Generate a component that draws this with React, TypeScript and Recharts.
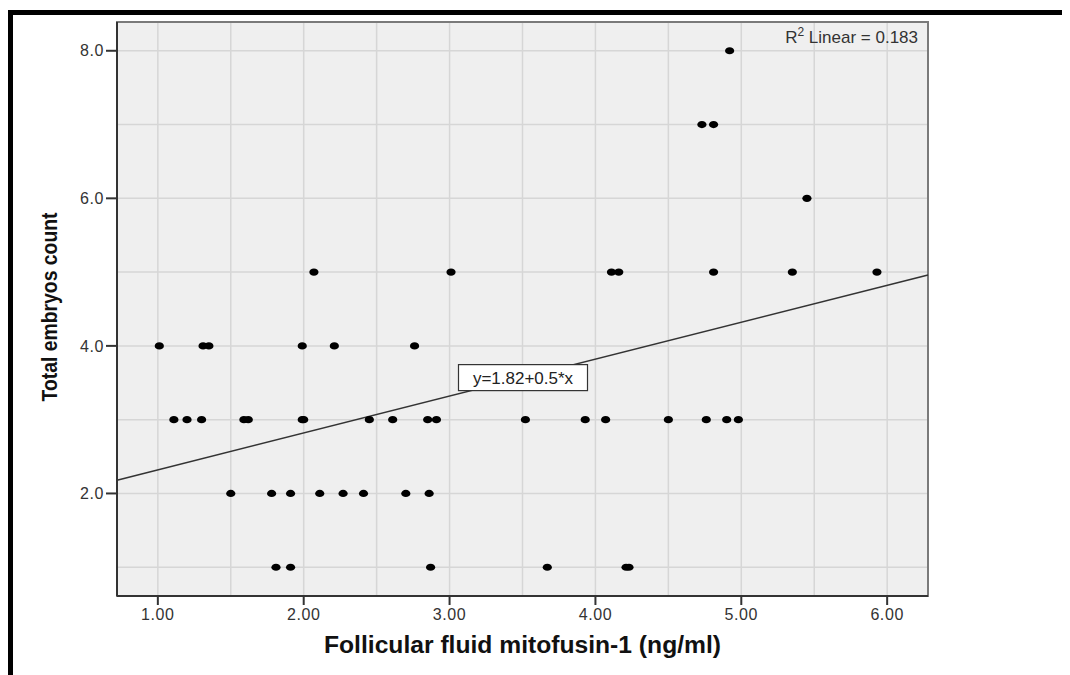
import React from 'react';
import {
  ScatterChart,
  Scatter,
  XAxis,
  YAxis,
  CartesianGrid,
  ReferenceLine,
  ReferenceDot,
  ReferenceArea,
  Label,
} from 'recharts';

// follicular fluid mitofusin-1 (ng/ml), paired with embryo counts below
const mitofusin = [
  1.81, 1.91, 2.87, 3.67, 4.21, 4.23,
  1.5, 1.78, 1.91, 2.11, 2.27, 2.41, 2.7, 2.86,
  1.11, 1.2, 1.3, 1.59, 1.62, 1.99, 2.0, 2.45, 2.61, 2.85, 2.91, 3.52, 3.93, 4.07, 4.5, 4.76, 4.9, 4.98,
  1.01, 1.31, 1.35, 1.99, 2.21, 2.76,
  2.07, 3.01, 4.11, 4.16, 4.81, 5.35, 5.93,
  5.45,
  4.73, 4.81,
  4.92,
];
const embryoCount = [
  1, 1, 1, 1, 1, 1,
  2, 2, 2, 2, 2, 2, 2, 2,
  3, 3, 3, 3, 3, 3, 3, 3, 3, 3, 3, 3, 3, 3, 3, 3, 3, 3,
  4, 4, 4, 4, 4, 4,
  5, 5, 5, 5, 5, 5, 5,
  6,
  7, 7,
  8,
];

const xTicks = [1, 2, 3, 4, 5, 6];
const yTicks = [2, 4, 6, 8];
const xGrid = [1, 1.5, 2, 2.5, 3, 3.5, 4, 4.5, 5, 5.5, 6];
const yGrid = [1, 2, 3, 4, 5, 6, 7, 8];
const xDomain = [0.72, 6.28];
const yDomain = [0.61, 8.39];

const intercept = 1.82;
const slope = 0.5;
const rSquared = 0.183;
const eqLabelX = 3.5;

const FONT = '"Liberation Sans", Arial, sans-serif';

const points = mitofusin.map((x, i) => ({ x, y: embryoCount[i] }));

const Dot = (props: any) => (
  <ellipse cx={props.cx} cy={props.cy} rx={4.6} ry={3.6} fill="#000" />
);

const EquationBox = (props: any) => {
  const { cx, cy } = props;
  return (
    <g>
      <rect x={cx - 64} y={cy - 13} width={129} height={26} fill="#fff" stroke="#333" strokeWidth={1.2} />
      <text x={cx + 0.5} y={cy + 6} textAnchor="middle" fontFamily={FONT} fontSize={17} fill="#222">
        {`y=${intercept}+${slope}*x`}
      </text>
    </g>
  );
};

const RSquaredText = (props: any) => {
  const { cx, cy } = props;
  return (
    <text x={cx - 10} y={cy + 21} textAnchor="end" fontFamily={FONT} fontSize={17} fill="#333">
      R
      <tspan dy={-7} fontSize={12}>2</tspan>
      <tspan dy={7}>{` Linear = ${rSquared}`}</tspan>
    </text>
  );
};

const XTitle = (props: any) => {
  const vb = props.viewBox;
  return (
    <text
      x={vb.x + vb.width / 2}
      y={vb.y + 57}
      textAnchor="middle"
      fontFamily={FONT}
      fontWeight="bold"
      fontSize={23}
      fill="#111"
      textLength={397}
      lengthAdjust="spacingAndGlyphs"
    >
      Follicular fluid mitofusin-1 (ng/ml)
    </text>
  );
};

const YTitle = (props: any) => {
  const vb = props.viewBox;
  const x = vb.x + 49;
  const y = vb.y + vb.height / 2 - 2;
  return (
    <text
      x={x}
      y={y}
      transform={`rotate(-90 ${x} ${y})`}
      textAnchor="middle"
      fontFamily={FONT}
      fontWeight="bold"
      fontSize={22}
      fill="#111"
      textLength={189}
      lengthAdjust="spacingAndGlyphs"
    >
      Total embryos count
    </text>
  );
};

export default function App() {
  return (
    <div style={{ position: 'relative', width: 1062, height: 667, overflow: 'hidden', background: '#fff' }}>
      <div
        style={{
          position: 'absolute',
          left: 0,
          top: 2,
          width: 1200,
          height: 800,
          borderTop: '5px solid #000',
          borderLeft: '5px solid #000',
        }}
      />
      <ScatterChart width={1062} height={667} margin={{ top: 14, right: 142, bottom: 0, left: 0 }}>
        <CartesianGrid
          fill="#efefef"
          fillOpacity={1}
          stroke="#d6d6d6"
          strokeWidth={1.5}
          verticalValues={xGrid}
          horizontalValues={yGrid}
        />
        <ReferenceArea
          x1={xDomain[0]}
          x2={xDomain[1]}
          y1={yDomain[0]}
          y2={yDomain[1]}
          fill="none"
          stroke="#7a7a7a"
          strokeWidth={2}
          ifOverflow="visible"
        />
        <XAxis
          type="number"
          dataKey="x"
          domain={xDomain}
          allowDataOverflow
          ticks={xTicks}
          tickFormatter={(v: number) => v.toFixed(2)}
          height={79}
          tickSize={9}
          tickMargin={4}
          axisLine={{ stroke: '#333', strokeWidth: 2 }}
          tickLine={{ stroke: '#333', strokeWidth: 2 }}
          tick={{ fill: '#333', fontSize: 16, fontFamily: FONT, letterSpacing: 0.6 }}
        >
          <Label content={<XTitle />} />
        </XAxis>
        <YAxis
          type="number"
          dataKey="y"
          domain={yDomain}
          allowDataOverflow
          ticks={yTicks}
          tickFormatter={(v: number) => v.toFixed(1)}
          width={109}
          tickSize={11}
          tickMargin={2}
          axisLine={{ stroke: '#333', strokeWidth: 2 }}
          tickLine={{ stroke: '#333', strokeWidth: 2 }}
          tick={{ fill: '#333', fontSize: 16, fontFamily: FONT, letterSpacing: 0.6 }}
        >
          <Label content={<YTitle />} />
        </YAxis>
        <ReferenceLine
          segment={[
            { x: xDomain[0], y: intercept + slope * xDomain[0] },
            { x: xDomain[1], y: intercept + slope * xDomain[1] },
          ]}
          stroke="#333"
          strokeWidth={1.6}
          ifOverflow="visible"
        />
        <Scatter data={points} shape={<Dot />} isAnimationActive={false} />
        <ReferenceDot
          x={eqLabelX}
          y={intercept + slope * eqLabelX}
          r={0}
          ifOverflow="visible"
          shape={<EquationBox />}
        />
        <ReferenceDot
          x={xDomain[1]}
          y={yDomain[1]}
          r={0}
          ifOverflow="visible"
          shape={<RSquaredText />}
        />
      </ScatterChart>
    </div>
  );
}
